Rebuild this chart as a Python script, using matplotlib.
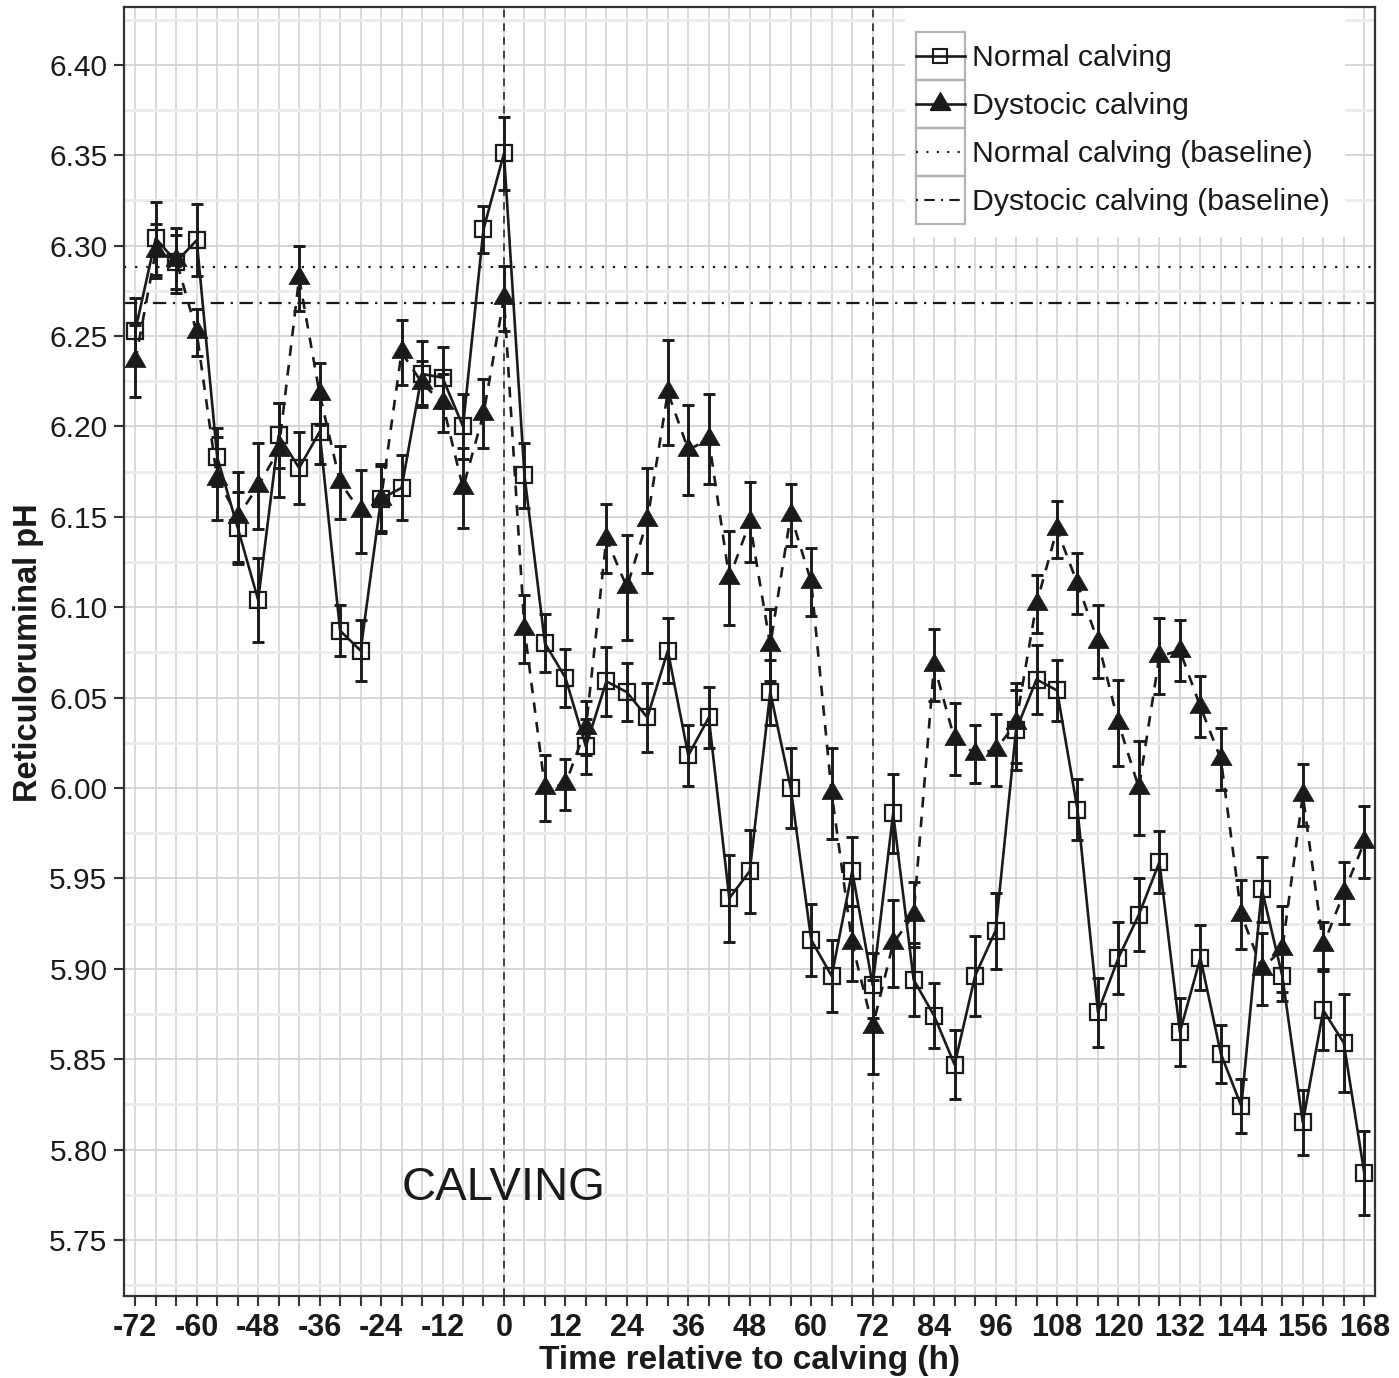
import matplotlib
matplotlib.use("Agg")
import matplotlib.pyplot as plt
from matplotlib.lines import Line2D
from matplotlib.patches import Rectangle
from matplotlib.legend_handler import HandlerLine2D
from matplotlib.ticker import MultipleLocator, FixedLocator

plt.rcParams['font.family'] = ['Liberation Sans', 'DejaVu Sans']

# ---------------- data ----------------
hours = [-72, -68, -64, -60, -56, -52, -48, -44, -40, -36, -32, -28, -24, -20, -16, -12,
         -8, -4, 0, 4, 8, 12, 16, 20, 24, 28, 32, 36, 40, 44, 48, 52, 56, 60, 64, 68,
         72, 76, 80, 84, 88, 92, 96, 100, 104, 108, 112, 116, 120, 124, 128, 132, 136,
         140, 144, 148, 152, 156, 160, 164, 168]

normal_ph = [6.253, 6.304, 6.291, 6.303, 6.183, 6.144, 6.104, 6.195, 6.177, 6.197,
             6.087, 6.076, 6.160, 6.166, 6.229, 6.227, 6.200, 6.309, 6.351, 6.173,
             6.080, 6.061, 6.023, 6.059, 6.053, 6.039, 6.076, 6.018, 6.039, 5.939,
             5.954, 6.053, 6.000, 5.916, 5.896, 5.954, 5.891, 5.986, 5.894, 5.874,
             5.847, 5.896, 5.921, 6.032, 6.060, 6.054, 5.988, 5.876, 5.906, 5.930,
             5.959, 5.865, 5.906, 5.853, 5.824, 5.944, 5.896, 5.815, 5.877, 5.859,
             5.787]
normal_se = [0.018, 0.020, 0.015, 0.020, 0.016, 0.020, 0.023, 0.018, 0.020, 0.018,
             0.014, 0.017, 0.019, 0.018, 0.018, 0.017, 0.018, 0.013, 0.020, 0.018,
             0.016, 0.016, 0.015, 0.019, 0.016, 0.019, 0.018, 0.017, 0.017, 0.024,
             0.023, 0.018, 0.022, 0.020, 0.020, 0.019, 0.018, 0.022, 0.020, 0.018,
             0.019, 0.022, 0.021, 0.022, 0.019, 0.017, 0.017, 0.019, 0.020, 0.020,
             0.017, 0.019, 0.018, 0.016, 0.015, 0.018, 0.014, 0.018, 0.022, 0.027,
             0.023]

dystocic_ph = [6.236, 6.297, 6.292, 6.252, 6.171, 6.150, 6.167, 6.187, 6.282, 6.218,
               6.169, 6.153, 6.160, 6.241, 6.224, 6.213, 6.166, 6.207, 6.271, 6.088,
               6.000, 6.002, 6.033, 6.138, 6.111, 6.148, 6.219, 6.187, 6.193, 6.116,
               6.147, 6.079, 6.151, 6.114, 5.997, 5.914, 5.868, 5.914, 5.930, 6.068,
               6.027, 6.019, 6.021, 6.036, 6.102, 6.143, 6.113, 6.081, 6.036, 6.000,
               6.073, 6.076, 6.045, 6.016, 5.930, 5.900, 5.911, 5.996, 5.913, 5.942,
               5.970]
dystocic_se = [0.020, 0.015, 0.018, 0.013, 0.023, 0.025, 0.024, 0.026, 0.018, 0.017,
               0.020, 0.023, 0.018, 0.018, 0.012, 0.016, 0.022, 0.019, 0.018, 0.019,
               0.018, 0.014, 0.015, 0.019, 0.029, 0.029, 0.029, 0.025, 0.025, 0.026,
               0.022, 0.020, 0.017, 0.019, 0.025, 0.021, 0.026, 0.024, 0.018, 0.020,
               0.020, 0.016, 0.020, 0.022, 0.016, 0.016, 0.017, 0.020, 0.024, 0.026,
               0.021, 0.017, 0.017, 0.017, 0.019, 0.020, 0.024, 0.017, 0.013, 0.017,
               0.020]

baseline_normal = 6.288
baseline_dystocic = 6.268
event_hours = [0, 72]
event_label = "CALVING"
event_label_pos = (0, 5.779)

x_tick_values = [-72, -68, -64, -60, -56, -52, -48, -44, -40, -36, -32, -28, -24, -20,
                 -16, -12, -8, -4, 0, 4, 8, 12, 16, 20, 24, 28, 32, 36, 40, 44, 48, 52,
                 56, 60, 64, 68, 72, 76, 80, 84, 88, 92, 96, 100, 104, 108, 112, 116,
                 120, 124, 128, 132, 136, 140, 144, 148, 152, 156, 160, 164, 168]
x_labelled = [-72, -60, -48, -36, -24, -12, 0, 12, 24, 36, 48, 60, 72, 84, 96, 108,
              120, 132, 144, 156, 168]

series_labels = ["Normal calving", "Dystocic calving",
                 "Normal calving (baseline)", "Dystocic calving (baseline)"]

# ---------------- figure ----------------
W, H = 1399, 1378
fig = plt.figure(figsize=(W / 100, H / 100), dpi=100)
L, R, T, B = 124, 1375, 7, 1296
ax = fig.add_axes([L / W, 1 - B / H, (R - L) / W, (B - T) / H])


def ax_x(px):
    return (px - L) / (R - L)


def ax_y(py):
    return (B - py) / (B - T)


ink = '#1a1a1a'
ax.set_xlim(-74.2, 170.1)
ax.set_ylim(5.719, 6.432)

# grid
ax.set_axisbelow(True)
ax.xaxis.set_major_locator(FixedLocator(x_tick_values))
ax.set_xticklabels([str(v) if v in x_labelled else '' for v in x_tick_values])
ax.yaxis.set_major_locator(MultipleLocator(0.05))
ax.yaxis.set_minor_locator(MultipleLocator(0.025))
ax.yaxis.set_major_formatter(matplotlib.ticker.FormatStrFormatter('%.2f'))
ax.grid(axis='x', which='major', color='#cfcfcf', lw=1.1, zorder=0)
ax.grid(axis='y', which='major', color='#cfcfcf', lw=1.2, zorder=0)
ax.grid(axis='y', which='minor', color='#ebebeb', lw=2.0, zorder=0)
ax.tick_params(axis='y', which='minor', length=0)

for s in ax.spines.values():
    s.set_color('#333333')
    s.set_linewidth(1.6)

ax.tick_params(axis='both', which='major', direction='out', length=7, width=1.5,
               color='#333333')
ax.tick_params(axis='y', labelsize=21.5, labelcolor=ink, pad=5)
ax.tick_params(axis='x', labelsize=22, labelcolor=ink, pad=5)
for lab in ax.get_xticklabels():
    lab.set_fontweight('bold')

# event lines
for eh in event_hours:
    ax.axvline(eh, color=ink, lw=1.1, ls=(0, (5, 4)), zorder=1)

# baselines
ax.axhline(baseline_normal, color=ink, lw=1.6, ls=(0, (1, 4)), zorder=1)
ax.axhline(baseline_dystocic, color=ink, lw=1.6, ls=(0, (6, 3, 1, 3)), zorder=1)

# triangle marker (equilateral, centred on centroid)
tri = [(-1.0, -0.577), (1.0, -0.577), (0.0, 1.155), (-1.0, -0.577)]

# dystocic series
ax.errorbar(hours, dystocic_ph, yerr=dystocic_se, fmt='none', ecolor=ink,
            elinewidth=2.1, capsize=4, capthick=2.1, zorder=3)
ax.plot(hours, dystocic_ph, color=ink, lw=1.9, ls=(0, (4, 3.5)), zorder=3)
ax.plot(hours, dystocic_ph, ls='none', marker=tri, ms=17.5, color=ink, mec=ink,
        mew=0.5, zorder=5)

# normal series
ax.errorbar(hours, normal_ph, yerr=normal_se, fmt='none', ecolor=ink,
            elinewidth=2.1, capsize=4, capthick=2.1, zorder=4)
ax.plot(hours, normal_ph, color=ink, lw=1.9, ls='-', zorder=4)
ax.plot(hours, normal_ph, ls='none', marker='s', ms=11.5, mfc='none', mec=ink,
        mew=1.6, zorder=6)

# event label
ax.text(event_label_pos[0], event_label_pos[1], event_label, ha='center',
        va='center', fontsize=34, color=ink, zorder=7)

# axis labels
ax.set_xlabel('Time relative to calving (h)', fontsize=24, fontweight='bold',
              color=ink)
ax.set_ylabel('Reticuloruminal pH', fontsize=23.5, fontweight='bold', color=ink)
ax.xaxis.set_label_coords(0.5, ax_y(1345))
ax.xaxis.label.set_va('top')
ax.yaxis.set_label_coords(ax_x(44), ax_y(653))


# legend with boxed keys
class BoxedLine(HandlerLine2D):
    def create_artists(self, legend, orig_handle, xdescent, ydescent, width,
                       height, fontsize, trans):
        arts = list(super().create_artists(legend, orig_handle, xdescent,
                                           ydescent, width, height, fontsize,
                                           trans))
        cy = height / 2.0 - ydescent
        for a in arts:
            n = len(a.get_xdata())
            a.set_ydata([cy] * n)
        rect = Rectangle((-xdescent, -ydescent), width, height, facecolor='none',
                         edgecolor='#b3b3b3', lw=1.6, transform=trans)
        return [rect] + arts


h_norm = Line2D([], [], color=ink, lw=1.9, marker='s', ms=10, mfc='none', mec=ink,
                mew=1.5)
h_dys = Line2D([], [], color=ink, lw=1.9, marker=tri, ms=17, mfc=ink, mec=ink)
h_bn = Line2D([], [], color=ink, lw=1.5, ls=(0, (1, 4)))
h_bd = Line2D([], [], color=ink, lw=1.5, ls=(0, (1, 3, 5, 3)))
handles = [h_norm, h_dys, h_bn, h_bd]

# white background behind the legend area
ax.add_patch(Rectangle((ax_x(905), ax_y(237)), ax_x(1345) - ax_x(905),
                       ax_y(8) - ax_y(237), transform=ax.transAxes,
                       facecolor='white', edgecolor='none', zorder=9))

leg = ax.legend(handles, series_labels, loc='upper left',
                bbox_to_anchor=(ax_x(905), ax_y(21)),
                borderaxespad=0, fontsize=21.8, frameon=True, fancybox=False,
                framealpha=1, facecolor='white', edgecolor='none',
                handlelength=1.6, handleheight=2.06, labelspacing=0,
                handletextpad=0.25, borderpad=0.37, numpoints=1,
                handler_map={Line2D: BoxedLine(numpoints=1)})
for t in leg.get_texts():
    t.set_color(ink)
leg.set_zorder(10)

fig.savefig('out.png', dpi=100)
